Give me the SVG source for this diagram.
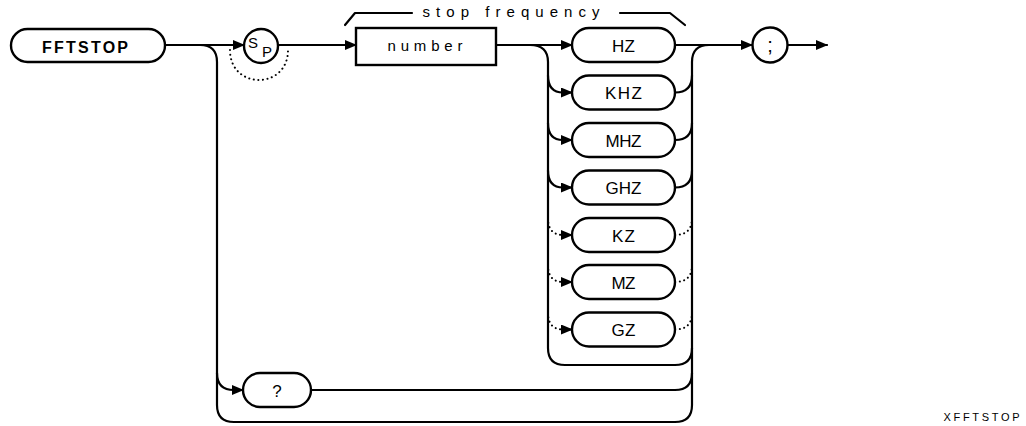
<svg xmlns="http://www.w3.org/2000/svg" width="1026" height="426" viewBox="0 0 1026 426">
<style>
.ln{fill:none;stroke:#000;stroke-width:2.2;stroke-linecap:round;stroke-linejoin:round}
.dt{fill:none;stroke:#000;stroke-width:2;stroke-dasharray:0.1 4.5;stroke-linecap:round}
.bx{fill:#fff;stroke:#000;stroke-width:2.4}
.t{font-family:"Liberation Sans",Arial,sans-serif;fill:#000;text-anchor:middle}
.u{font-size:17px}
</style>
<defs>
<marker id="ar" markerWidth="12" markerHeight="10" refX="11" refY="5" orient="auto" markerUnits="userSpaceOnUse">
<path d="M0,0 L12,5 L0,10 Z" fill="#000"/>
</marker>
</defs>
<rect width="1026" height="426" fill="#fff"/>
<g id="connectors">
<path class="ln" d="M165,45 L244,45" marker-end="url(#ar)"/>
<path class="dt" d="M230,50 C230,90 288,90 288,50"/>
<path class="ln" d="M278,45 L356,45" marker-end="url(#ar)"/>
<path class="ln" d="M200,45 Q217,45 217,62 L217,405 Q217,422 234,422 L675,422 Q692,422 692,405"/>
<path class="ln" d="M217,373 Q217,390 234,390 L243,390" marker-end="url(#ar)"/>
<path class="ln" d="M311,390 L675,390 Q692,390 692,373"/>
<path class="ln" d="M496,45 L572,45" marker-end="url(#ar)"/>
<path class="ln" d="M530,45 Q548,45 548,62 L548,348 Q548,365 565,365 L675,365 Q692,365 692,348"/>
<path class="ln" d="M548,75.5 Q548,92.5 563,92.5 L572,92.5" marker-end="url(#ar)"/>
<path class="ln" d="M548,123 Q548,140 563,140 L572,140" marker-end="url(#ar)"/>
<path class="ln" d="M548,170.5 Q548,187.5 563,187.5 L572,187.5" marker-end="url(#ar)"/>
<path class="dt" d="M548,218 Q548,235 563,235"/>
<path class="ln" d="M563,235 L572,235" marker-end="url(#ar)"/>
<path class="dt" d="M548,265 Q548,282 563,282"/>
<path class="ln" d="M563,282 L572,282" marker-end="url(#ar)"/>
<path class="dt" d="M548,312.5 Q548,329.5 563,329.5"/>
<path class="ln" d="M563,329.5 L572,329.5" marker-end="url(#ar)"/>
<path class="ln" d="M675,45 L752,45" marker-end="url(#ar)"/>
<path class="ln" d="M692,405 L692,62 Q692,45 709,45"/>
<path class="ln" d="M675,92.5 Q692,92.5 692,75.5"/>
<path class="ln" d="M675,140 Q692,140 692,123"/>
<path class="ln" d="M675,187.5 Q692,187.5 692,170.5"/>
<path class="dt" d="M675,235 Q692,235 692,218"/>
<path class="dt" d="M675,282 Q692,282 692,265"/>
<path class="dt" d="M675,329.5 Q692,329.5 692,312.5"/>
<path class="ln" d="M788,45 L827,45" marker-end="url(#ar)"/>
</g>
<g id="bracket">
<path class="ln" d="M345,25 L355,13 L412,13"/>
<path class="ln" d="M620,13 L670,13 L685,25"/>
<text class="t" x="511" y="17" font-size="15" textLength="177" lengthAdjust="spacing">stop frequency</text>
</g>
<g id="n-fftstop">
<rect class="bx" x="11" y="29" width="154" height="33" rx="16.5"/>
<text class="t" x="85" y="53" font-size="16" font-weight="bold" textLength="86" lengthAdjust="spacing">FFTSTOP</text>
</g>
<g id="n-sp">
<circle class="bx" cx="261" cy="46" r="17"/>
<text class="t" x="253" y="48" font-size="15">S</text>
<text class="t" x="267" y="57" font-size="15">P</text>
</g>
<g id="n-number">
<rect class="bx" x="356" y="28" width="140" height="37"/>
<text class="t" x="425" y="51" font-size="15" textLength="75" lengthAdjust="spacing">number</text>
</g>
<g id="n-hz">
<rect class="bx" x="572" y="28" width="103" height="34" rx="17"/>
<text class="t u" x="623.5" y="51.5" textLength="23" lengthAdjust="spacing">HZ</text>
</g>
<g id="n-khz">
<rect class="bx" x="572" y="75.5" width="103" height="34" rx="17"/>
<text class="t u" x="623.5" y="99" textLength="37" lengthAdjust="spacing">KHZ</text>
</g>
<g id="n-mhz">
<rect class="bx" x="572" y="123" width="103" height="34" rx="17"/>
<text class="t u" x="623.5" y="146.5" textLength="36" lengthAdjust="spacing">MHZ</text>
</g>
<g id="n-ghz">
<rect class="bx" x="572" y="170.5" width="103" height="34" rx="17"/>
<text class="t u" x="623.5" y="194" textLength="36" lengthAdjust="spacing">GHZ</text>
</g>
<g id="n-kz">
<rect class="bx" x="572" y="218" width="103" height="34" rx="17"/>
<text class="t u" x="623.5" y="241.5" textLength="23" lengthAdjust="spacing">KZ</text>
</g>
<g id="n-mz">
<rect class="bx" x="572" y="265" width="103" height="34" rx="17"/>
<text class="t u" x="623.5" y="288.5" textLength="24" lengthAdjust="spacing">MZ</text>
</g>
<g id="n-gz">
<rect class="bx" x="572" y="312.5" width="103" height="34" rx="17"/>
<text class="t u" x="623.5" y="336" textLength="24" lengthAdjust="spacing">GZ</text>
</g>
<g id="n-query">
<rect class="bx" x="243" y="373" width="68" height="34" rx="17"/>
<text class="t u" x="277" y="396.5">?</text>
</g>
<g id="n-semicolon">
<circle class="bx" cx="770" cy="45" r="17.5"/>
<text class="t" x="770" y="52" font-size="20">;</text>
</g>
<g id="caption">
<text class="t" x="981.5" y="421" font-size="11" textLength="76" lengthAdjust="spacing">XFFTSTOP</text>
</g>
</svg>
